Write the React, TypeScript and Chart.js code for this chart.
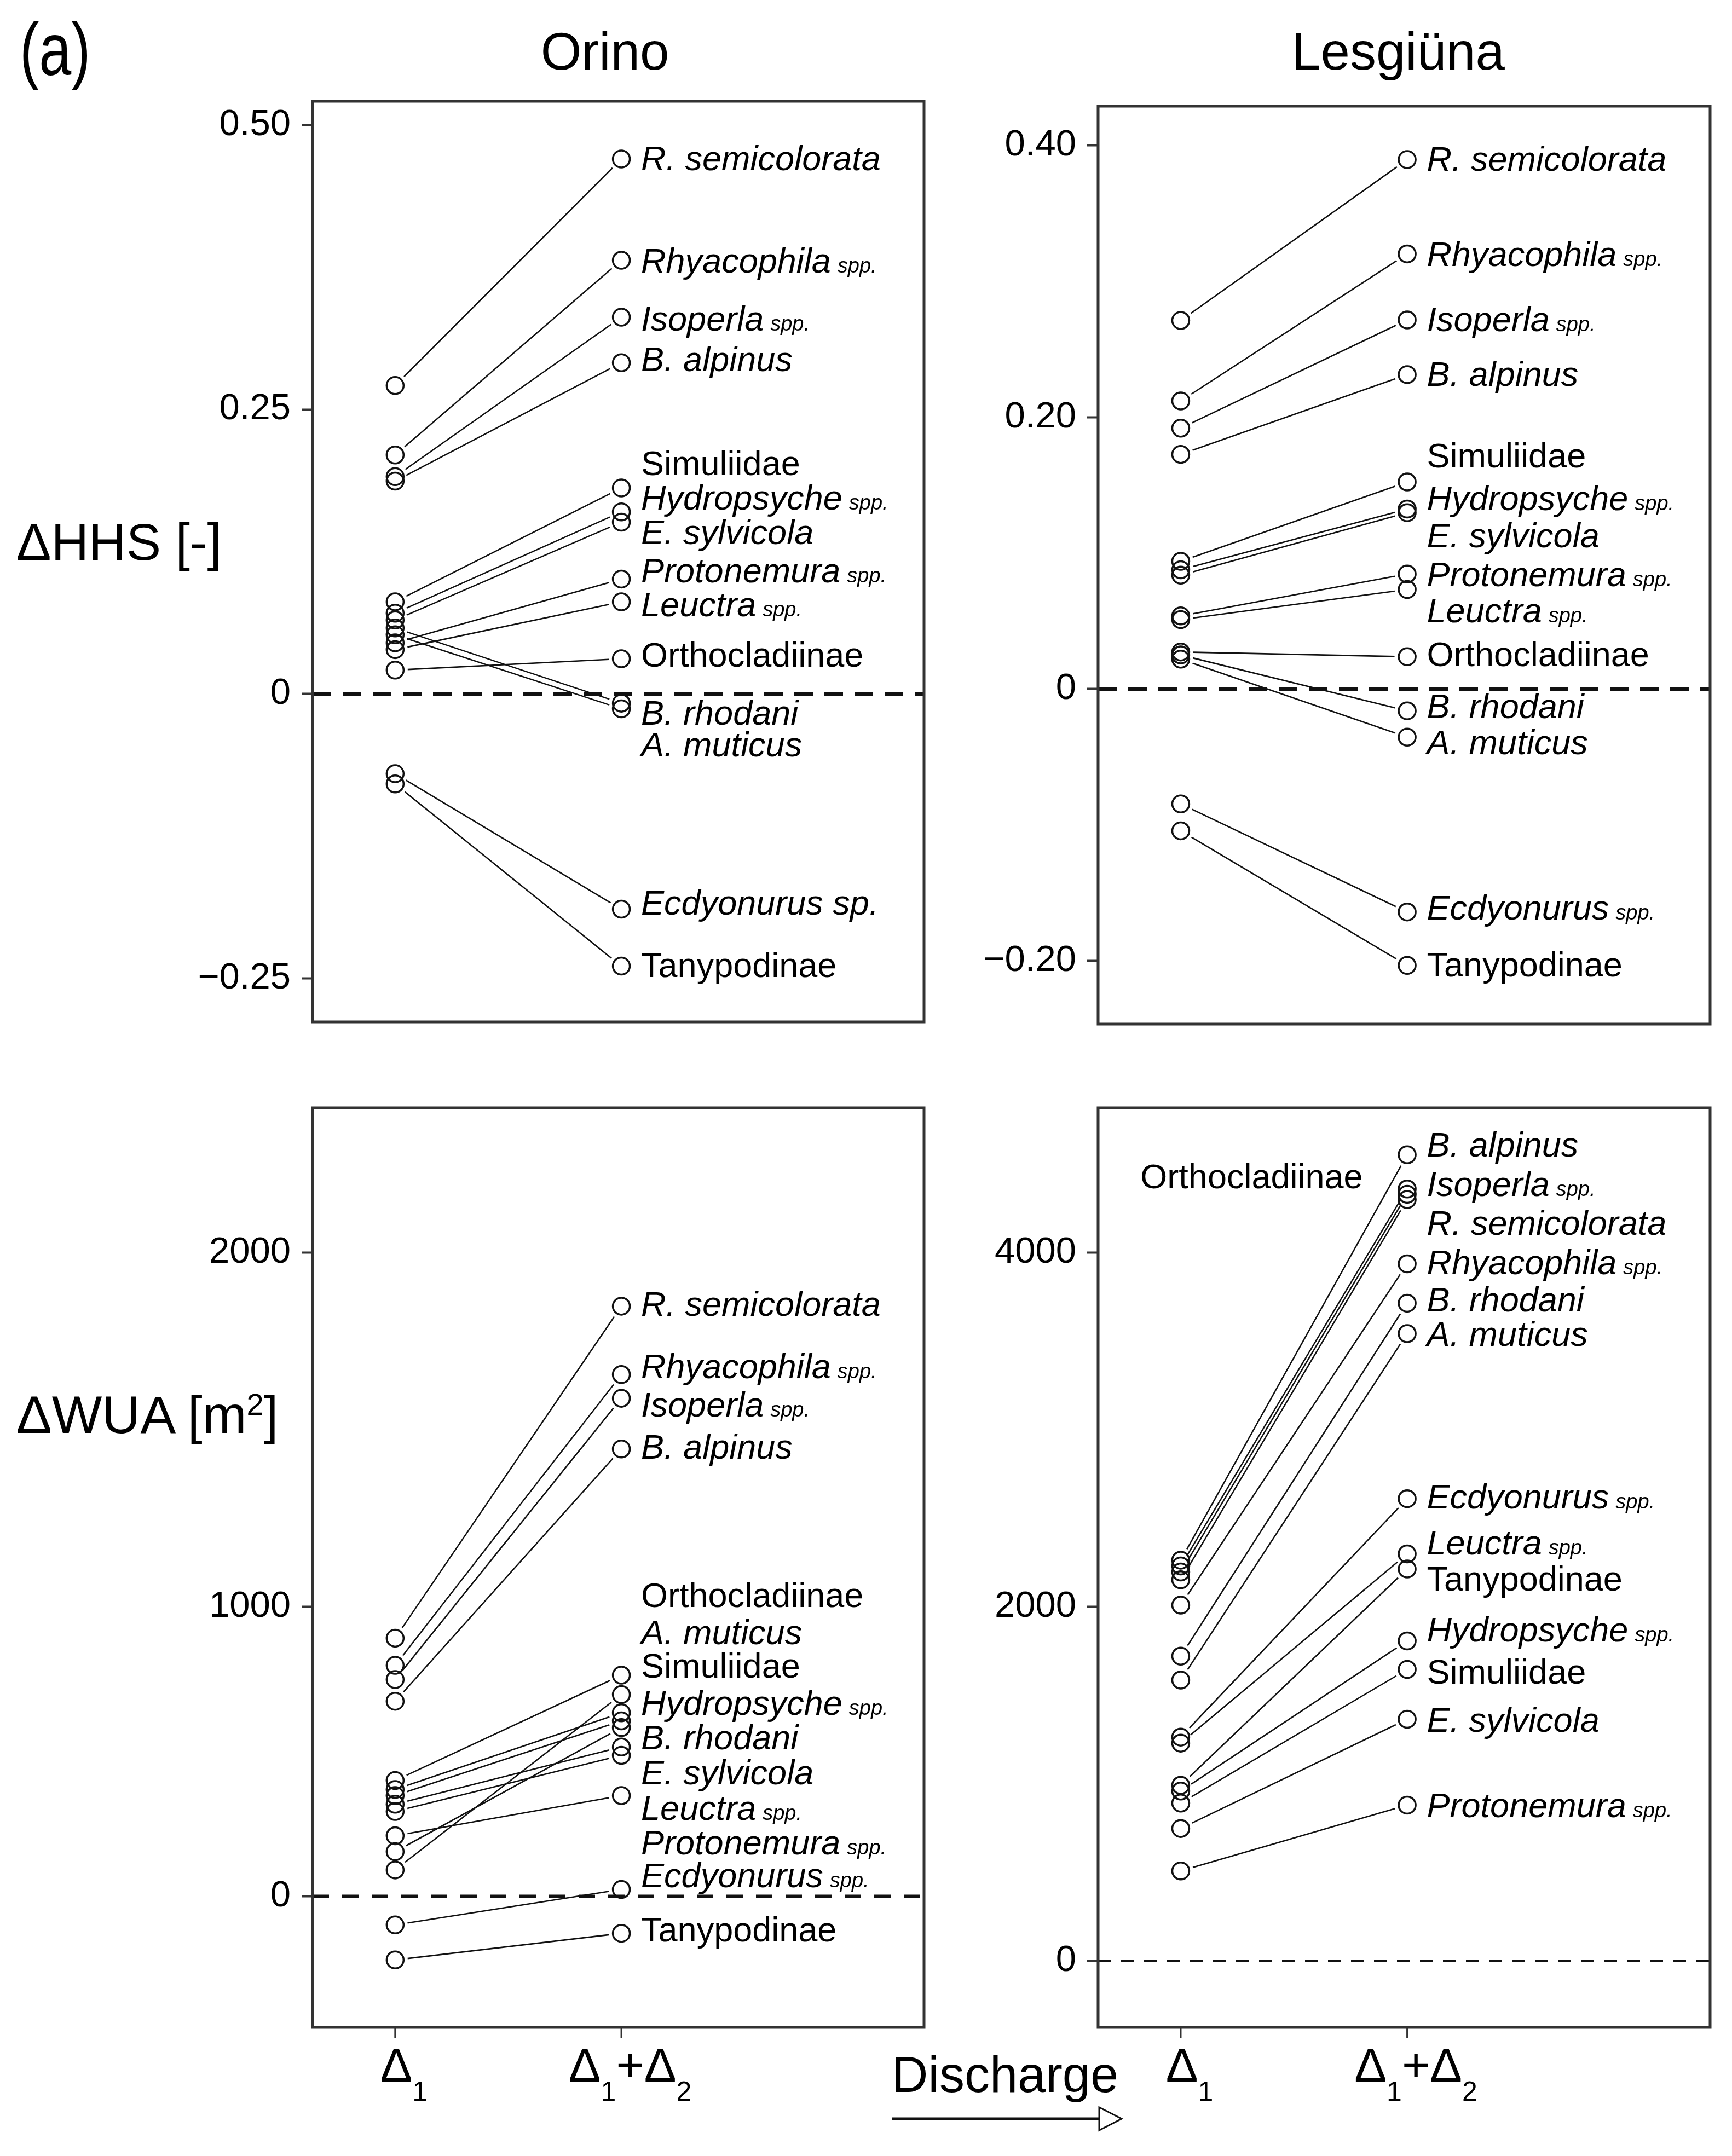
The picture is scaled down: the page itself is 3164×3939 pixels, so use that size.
import React, { useEffect, useRef } from 'react';
import { Chart, registerables, LinearScale } from 'chart.js';

Chart.register(...registerables);

// ---------------- categories ----------------
const X_VALUES = [1, 2];
const X_TICK_PARTS: [string, string][][] = [
  [['Δ', '1']],
  [['Δ', '1'], ['+Δ', '2']],
];

const SPECIES = [
  'R. semicolorata', 'Rhyacophila', 'Isoperla', 'B. alpinus', 'Simuliidae', 'Hydropsyche', 'E. sylvicola',
  'Protonemura', 'Leuctra', 'Orthocladiinae', 'B. rhodani', 'A. muticus', 'Ecdyonurus', 'Tanypodinae',
];
const ORINO_HHS_NAMES = [
  'R. semicolorata', 'Rhyacophila', 'Isoperla', 'B. alpinus', 'Simuliidae', 'Hydropsyche', 'E. sylvicola',
  'Protonemura', 'Leuctra', 'Orthocladiinae', 'B. rhodani', 'A. muticus', 'Ecdyonurus sp.', 'Tanypodinae',
];
const SPECIES_ITALIC = [true, true, true, true, false, true, true, true, true, false, true, true, true, false];
const SPECIES_SPP = [false, true, true, false, false, true, false, true, true, false, false, false, true, false];
const ORINO_HHS_SPP = [false, true, true, false, false, true, false, true, true, false, false, false, false, false];

// ---------------- Orino ΔHHS ----------------
const ORINO_HHS_D1 = [0.271, 0.210, 0.191, 0.187, 0.081, 0.071, 0.065, 0.045, 0.039, 0.021, 0.058, 0.052, -0.070, -0.079];
const ORINO_HHS_D12 = [0.470, 0.381, 0.331, 0.291, 0.181, 0.160, 0.151, 0.101, 0.081, 0.031, -0.008, -0.013, -0.189, -0.239];
const ORINO_HHS_LABEL_Y = [0.471, 0.381, 0.330, 0.2945, 0.203, 0.173, 0.1425, 0.109, 0.079, 0.035, -0.016, -0.044, -0.183, -0.2375];
const ORINO_HHS_TICKS = [-0.25, 0, 0.25, 0.5];
const ORINO_HHS_TICK_LABELS = ['−0.25', '0', '0.25', '0.50'];

// ---------------- Lesgiüna ΔHHS ----------------
const LESG_HHS_D1 = [0.2712, 0.212, 0.192, 0.1727, 0.094, 0.0878, 0.0838, 0.0538, 0.0511, 0.0273, 0.0251, 0.022, -0.0845, -0.1043];
const LESG_HHS_D12 = [0.3896, 0.3202, 0.2716, 0.2314, 0.1524, 0.1325, 0.1298, 0.0847, 0.0733, 0.0238, -0.016, -0.0354, -0.164, -0.2033];
const LESG_HHS_LABEL_Y = [0.3905, 0.3202, 0.2725, 0.2323, 0.1722, 0.1408, 0.1135, 0.0847, 0.0582, 0.026, -0.0124, -0.039, -0.1605, -0.2024];
const LESG_HHS_TICKS = [-0.2, 0, 0.2, 0.4];
const LESG_HHS_TICK_LABELS = ['−0.20', '0', '0.20', '0.40'];

// ---------------- Orino ΔWUA ----------------
const ORINO_WUA_D1 = [892, 798, 749, 674, 369, 348, 318, 209, 293, 400, 154, 91, -99, -220];
const ORINO_WUA_D12 = [1849, 1656, 1589, 1446, 634, 606, 516, 348, 487, 764, 583, 697, 23.6, -128];
const ORINO_WUA_LABEL_Y = [1856, 1680, 1573, 1454, 799, 670, 429, 187, 307, 1034, 550, 913, 73, -114];
const ORINO_WUA_TICKS = [0, 1000, 2000];
const ORINO_WUA_TICK_LABELS = ['0', '1000', '2000'];

// ---------------- Lesgiüna ΔWUA ----------------
const LESG_WUA_D1 = [2197, 2010, 2231, 2264, 892, 960, 749, 509, 1231, 2153, 1722, 1587, 1265, 993];
const LESG_WUA_D12 = [4330, 3937, 4360, 4553, 1647, 1808, 1366, 881, 2299, 4300, 3715, 3543, 2611, 2214];
const LESG_WUA_LABEL_Y = [4170, 3949, 4390, 4614, 1638, 1875, 1366, 881, 2366, 4434, 3739, 3543, 2627, 2163];
const LESG_WUA_LABEL_X = [2, 2, 2, 2, 2, 2, 2, 2, 2, 0.735, 2, 2, 2, 2];
const LESG_WUA_TICKS = [0, 2000, 4000];
const LESG_WUA_TICK_LABELS = ['0', '2000', '4000'];

// ---------------- style ----------------
const FONT = '"Liberation Sans", Arial, Helvetica, sans-serif';
const LABEL_FONT = 63;
const SPP_FONT = 38;
const LABEL_DX = 36;
const GAP = 23;
const X_MIN = 0.635;
const X_MAX = 3.338;
const AXIS_W = 300;
const PAD_TOP = 100;
const PAD_RIGHT = 40;

// Orino ΔWUA axis of the reference is drawn with a narrower 0–1000 interval
const KNEE = 1000;
const LOWER_RATIO = 0.817;
const fwd = (v: number) => (v <= KNEE ? v * LOWER_RATIO : KNEE * LOWER_RATIO + (v - KNEE));
const inv = (t: number) => (t <= KNEE * LOWER_RATIO ? t / LOWER_RATIO : KNEE + (t - KNEE * LOWER_RATIO));

class BentLinearScale extends LinearScale {
  static id = 'bentLinear';
  static defaults = LinearScale.defaults;
  getPixelForValue(value: any) {
    if (value === null || value === undefined || isNaN(value)) return NaN;
    const a = fwd(this.min as number);
    const b = fwd(this.max as number);
    return this.getPixelForDecimal((fwd(value) - a) / (b - a));
  }
  getValueForPixel(pixel: number) {
    const a = fwd(this.min as number);
    const b = fwd(this.max as number);
    return inv(a + this.getDecimalForPixel(pixel) * (b - a));
  }
}
Chart.register(BentLinearScale);

type Panel = {
  key: string;
  box: { left: number; top: number; right: number; bottom: number };
  d1: number[];
  d12: number[];
  labelY: number[];
  labelX?: number[];
  names: string[];
  spp: boolean[];
  ticks: number[];
  tickLabels: string[];
  yMin: number;
  yMax: number;
  bent?: boolean;
  dash: number[];
  dashWidth: number;
  xAxis: boolean;
};

const PANELS: Panel[] = [
  {
    key: 'orino-hhs', box: { left: 571, top: 185, right: 1688, bottom: 1867 },
    d1: ORINO_HHS_D1, d12: ORINO_HHS_D12, labelY: ORINO_HHS_LABEL_Y, names: ORINO_HHS_NAMES, spp: ORINO_HHS_SPP,
    ticks: ORINO_HHS_TICKS, tickLabels: ORINO_HHS_TICK_LABELS, yMin: -0.288, yMax: 0.5207,
    dash: [34, 21], dashWidth: 6, xAxis: false,
  },
  {
    key: 'lesg-hhs', box: { left: 2006, top: 194, right: 3124, bottom: 1871 },
    d1: LESG_HHS_D1, d12: LESG_HHS_D12, labelY: LESG_HHS_LABEL_Y, names: SPECIES, spp: SPECIES_SPP,
    ticks: LESG_HHS_TICKS, tickLabels: LESG_HHS_TICK_LABELS, yMin: -0.2465, yMax: 0.4289,
    dash: [34, 21], dashWidth: 6, xAxis: false,
  },
  {
    key: 'orino-wua', box: { left: 571, top: 2024, right: 1688, bottom: 3704 },
    d1: ORINO_WUA_D1, d12: ORINO_WUA_D12, labelY: ORINO_WUA_LABEL_Y, names: SPECIES, spp: SPECIES_SPP,
    ticks: ORINO_WUA_TICKS, tickLabels: ORINO_WUA_TICK_LABELS, yMin: -453, yMax: 2409, bent: true,
    dash: [30, 24], dashWidth: 6, xAxis: true,
  },
  {
    key: 'lesg-wua', box: { left: 2006, top: 2024, right: 3124, bottom: 3704 },
    d1: LESG_WUA_D1, d12: LESG_WUA_D12, labelY: LESG_WUA_LABEL_Y, labelX: LESG_WUA_LABEL_X, names: SPECIES, spp: SPECIES_SPP,
    ticks: LESG_WUA_TICKS, tickLabels: LESG_WUA_TICK_LABELS, yMin: -374, yMax: 4818,
    dash: [24, 18], dashWidth: 4, xAxis: true,
  },
];

function makePlugin(p: Panel) {
  return {
    id: 'panelDecor',
    beforeDatasetsDraw(chart: any) {
      const { ctx, chartArea: a, scales } = chart;
      const y0 = scales.y.getPixelForValue(0);
      ctx.save();
      ctx.beginPath();
      ctx.rect(a.left, a.top, a.right - a.left, a.bottom - a.top);
      ctx.clip();
      ctx.strokeStyle = '#111';
      ctx.setLineDash(p.dash);
      ctx.lineWidth = p.dashWidth;
      ctx.beginPath();
      ctx.moveTo(a.left, y0);
      ctx.lineTo(a.right, y0);
      ctx.stroke();
      ctx.setLineDash([]);
      ctx.lineWidth = 2.6;
      chart.data.datasets.forEach((_: any, i: number) => {
        const m = chart.getDatasetMeta(i);
        const p0 = m.data[0];
        const p1 = m.data[1];
        const dx = p1.x - p0.x;
        const dy = p1.y - p0.y;
        const len = Math.hypot(dx, dy);
        const ux = dx / len;
        const uy = dy / len;
        ctx.beginPath();
        ctx.moveTo(p0.x + ux * GAP, p0.y + uy * GAP);
        ctx.lineTo(p1.x - ux * GAP, p1.y - uy * GAP);
        ctx.stroke();
      });
      ctx.restore();
    },
    afterDraw(chart: any) {
      const { ctx, chartArea: a, scales } = chart;
      const xs = scales.x;
      const ys = scales.y;
      ctx.save();
      // species labels
      ctx.fillStyle = '#000';
      ctx.textAlign = 'left';
      ctx.textBaseline = 'alphabetic';
      p.names.forEach((name, i) => {
        const lx = p.labelX ? p.labelX[i] : X_VALUES[1];
        const x = xs.getPixelForValue(lx) + LABEL_DX;
        const y = ys.getPixelForValue(p.labelY[i]) + LABEL_FONT * 0.358;
        ctx.font = `${SPECIES_ITALIC[i] ? 'italic ' : ''}${LABEL_FONT}px ${FONT}`;
        ctx.fillText(name, x, y);
        if (p.spp[i]) {
          const w = ctx.measureText(name).width;
          ctx.font = `italic ${SPP_FONT}px ${FONT}`;
          ctx.fillText('spp.', x + w + 12, y);
        }
      });
      // x axis ticks and labels
      if (p.xAxis) {
        ctx.strokeStyle = '#333';
        ctx.lineWidth = 3;
        X_VALUES.forEach((xv, k) => {
          const px = xs.getPixelForValue(xv);
          ctx.beginPath();
          ctx.moveTo(px, a.bottom);
          ctx.lineTo(px, a.bottom + 20);
          ctx.stroke();
          const parts = X_TICK_PARTS[k];
          const mainF = `88px ${FONT}`;
          const subF = `50px ${FONT}`;
          let total = 0;
          parts.forEach(([m, s]) => {
            ctx.font = mainF;
            total += ctx.measureText(m).width;
            ctx.font = subF;
            total += ctx.measureText(s).width;
          });
          let cx = px + 16 - total / 2;
          const base = a.bottom + 99;
          parts.forEach(([m, s]) => {
            ctx.font = mainF;
            ctx.fillText(m, cx, base);
            cx += ctx.measureText(m).width;
            ctx.font = subF;
            ctx.fillText(s, cx, base + 35);
            cx += ctx.measureText(s).width;
          });
        });
      }
      // box
      ctx.strokeStyle = '#333';
      ctx.lineWidth = 5;
      ctx.strokeRect(a.left, a.top, a.right - a.left, a.bottom - a.top);
      ctx.restore();
    },
  };
}

function buildConfig(p: Panel): any {
  const padBottom = p.xAxis ? 230 : 100;
  return {
    type: 'scatter',
    data: {
      datasets: SPECIES.map((sp, i) => ({
        label: sp,
        data: [
          { x: X_VALUES[0], y: p.d1[i] },
          { x: X_VALUES[1], y: p.d12[i] },
        ],
        showLine: false,
        pointRadius: 15.5,
        pointHoverRadius: 15.5,
        pointBorderWidth: 3.5,
        pointBorderColor: '#111',
        pointBackgroundColor: 'rgba(0,0,0,0)',
      })),
    },
    options: {
      animation: false,
      responsive: false,
      maintainAspectRatio: false,
      devicePixelRatio: 1,
      events: [],
      layout: { padding: { left: 0, top: PAD_TOP, right: PAD_RIGHT, bottom: padBottom } },
      plugins: { legend: { display: false }, tooltip: { enabled: false }, title: { display: false } },
      scales: {
        x: { type: 'linear', min: X_MIN, max: X_MAX, display: false },
        y: {
          type: p.bent ? 'bentLinear' : 'linear',
          min: p.yMin,
          max: p.yMax,
          afterFit: (s: any) => {
            s.width = AXIS_W;
          },
          afterBuildTicks: (s: any) => {
            s.ticks = p.ticks.map((v) => ({ value: v }));
          },
          ticks: {
            callback: (_v: any, i: number) => p.tickLabels[i],
            font: { family: FONT, size: 67 },
            color: '#000',
            padding: 20,
            autoSkip: false,
          },
          grid: { drawOnChartArea: false, drawTicks: true, tickLength: 20, tickWidth: 4, tickColor: '#333' },
          border: { display: false },
        },
      },
    },
    plugins: [makePlugin(p)],
  };
}

function PanelChart({ p }: { p: Panel }) {
  const ref = useRef<HTMLCanvasElement>(null);
  const padBottom = p.xAxis ? 230 : 100;
  const left = p.box.left - AXIS_W;
  const top = p.box.top - PAD_TOP;
  const width = p.box.right - p.box.left + AXIS_W + PAD_RIGHT;
  const height = p.box.bottom - p.box.top + PAD_TOP + padBottom;
  useEffect(() => {
    const chart = new Chart(ref.current as HTMLCanvasElement, buildConfig(p));
    return () => chart.destroy();
  }, [p]);
  return (
    <canvas
      ref={ref}
      width={width}
      height={height}
      style={{ position: 'absolute', left, top, width, height }}
    />
  );
}

function Txt({ left, center, baseline, size, children, style }: any) {
  const base: any = {
    position: 'absolute',
    top: baseline - 0.8465 * size,
    fontSize: size,
    lineHeight: `${size}px`,
    fontFamily: FONT,
    color: '#000',
    whiteSpace: 'nowrap',
  };
  if (center !== undefined) {
    return <div style={{ ...base, left: center - 1000, width: 2000, textAlign: 'center', ...style }}>{children}</div>;
  }
  return <div style={{ ...base, left, ...style }}>{children}</div>;
}

export default function App() {
  return (
    <div style={{ position: 'absolute', left: 0, top: 0, width: 3164, height: 3939, background: '#fff', overflow: 'hidden' }}>
      {PANELS.map((p) => (
        <PanelChart key={p.key} p={p} />
      ))}
      <Txt left={36} baseline={137} size={136} style={{ transform: 'scaleX(0.78)', transformOrigin: '0 0' }}>(a)</Txt>
      <Txt center={1105} baseline={127} size={96}>Orino</Txt>
      <Txt center={2554} baseline={127} size={96}>Lesgiüna</Txt>
      <Txt left={30} baseline={1023} size={95}>ΔHHS [-]</Txt>
      <Txt left={30} baseline={2618} size={97}>
        ΔWUA [m<span style={{ fontSize: 56, lineHeight: '56px', position: 'relative', top: -33 }}>2</span>]
      </Txt>
      <Txt left={1629} baseline={3822} size={92}>Discharge</Txt>
      <svg style={{ position: 'absolute', left: 1620, top: 3840 }} width={450} height={70}>
        <line x1={9} y1={31} x2={388} y2={31} stroke="#111" strokeWidth={5} />
        <polygon points="388,10 429,31 388,52" fill="#fff" stroke="#111" strokeWidth={3} />
      </svg>
    </div>
  );
}
